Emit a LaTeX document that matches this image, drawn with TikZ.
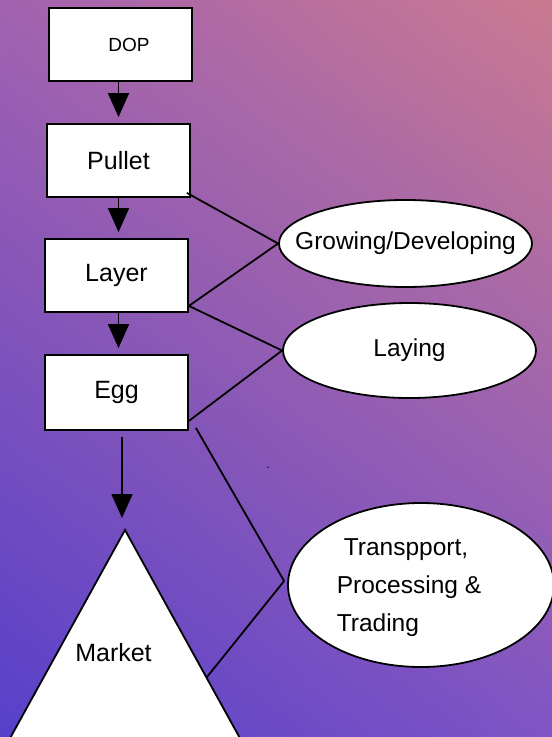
\documentclass[tikz,border=0pt]{standalone}
\usepackage{fontspec}
\setmainfont{Liberation Sans}
\usetikzlibrary{shapes.geometric, arrows.meta, positioning, shadings}

\definecolor{bgTL}{RGB}{162,98,176}
\definecolor{bgTR}{RGB}{202,122,144}
\definecolor{bgBL}{RGB}{86,64,202}
\definecolor{bgBR}{RGB}{128,84,196}

\begin{document}
\begin{tikzpicture}[x=1pt, y=-1pt,
  box/.style={draw, line width=1.8pt, fill=white, minimum width=143pt, minimum height=73pt, inner sep=0pt, font=\fontsize{25}{30}\selectfont},
  oval/.style={draw, ellipse, line width=1.8pt, fill=white, inner sep=0pt, font=\fontsize{24.5}{38}\selectfont},
  link/.style={line width=1.8pt},
  arr/.style={line width=1.8pt, -{Triangle[width=21pt,length=24pt]}, shorten >=6pt}]
\clip (0,0) rectangle (552,737);
\shade[upper left=bgTL, upper right=bgTR, lower left=bgBL, lower right=bgBR] (0,0) rectangle (552,737);

% chain of boxes
\node[box, font=\fontsize{19}{22}\selectfont] (dop) at (120.5,44.5) {\hspace*{17pt}DOP};
\node[box] (pullet) at (118.5,160.5) {Pullet};
\node[box] (layer) at (116.5,275.5) {Layer};
\node[box, minimum height=75pt] (egg) at (116.5,392.5) {Egg};

% market triangle
\coordinate (mkttop) at (125,530);
\coordinate (mktleft) at (-2,760);
\coordinate (mktright) at (252,760);
\coordinate (mktedge) at (207,677);
\draw[link, fill=white] (mkttop) -- (mktleft) -- (mktright) -- cycle;
\node[font=\fontsize{25}{30}\selectfont] (market) at (113.5,653) {Market};

% stages
\node[oval, minimum width=253pt, minimum height=87pt] (grow) at (405.5,243.5) {\makebox[0pt]{Growing/Developing}};
\node[oval, minimum width=253pt, minimum height=95pt] (lay) at (409.5,350.5) {\makebox[0pt]{Laying}};
\node[oval, minimum width=266pt, minimum height=164pt] (trade) at (421,585)
  {\smash{\raisebox{-7pt}{\makebox[0pt]{\begin{tabular}{@{}l@{}}\hspace*{7pt}Transpport,\\Processing \&\hspace*{24pt}\\Trading\end{tabular}}}}};
\node[font=\fontsize{12}{14}\selectfont] (dot) at (268,468) {.};

\draw[arr] (pullet.north |- dop.south) -- (pullet.north);
\draw[arr] (pullet.south) -- (pullet.south |- layer.north);
\draw[arr] (pullet.south |- layer.south) -- (pullet.south |- egg.north);
\draw[arr, shorten <=6pt, shorten >=12pt] ([xshift=5.5pt]egg.south) -- ([xshift=5.5pt]egg.south |- mkttop);

\draw[link] ([xshift=-4pt,yshift=5pt]pullet.south east) -- (grow.west);
\draw[link] ([yshift=7pt]layer.south east) -- (grow.west);
\draw[link] ([yshift=7pt]layer.south east) -- (lay.west);
\draw[link] ([yshift=10pt]egg.south east) -- (lay.west);
\draw[link] ([xshift=7pt,yshift=3pt]egg.south east) -- ([xshift=-3pt,yshift=4pt]trade.west);
\draw[link] ([xshift=-3pt,yshift=4pt]trade.west) -- (mktedge);
\end{tikzpicture}
\end{document}
